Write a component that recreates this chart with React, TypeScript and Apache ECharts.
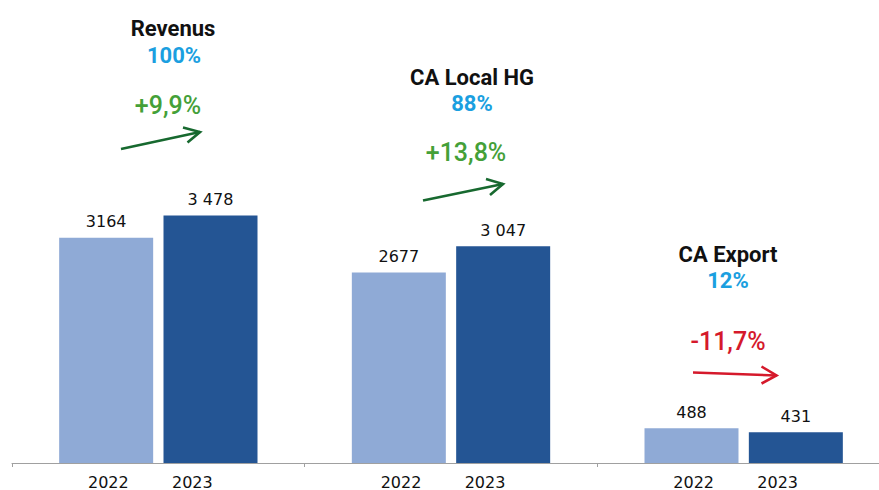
import React, { useEffect, useRef } from "react";
import * as echarts from "echarts";

const categories = ["Revenus", "CA Local HG", "CA Export"];
const years = ["2022", "2023"];
const values2022 = [3164, 2677, 488];
const values2023 = [3478, 3047, 431];
const labels2022 = ["3164", "2677", "488"];
const labels2023 = ["3 478", "3 047", "431"];
const shares = ["100%", "88%", "12%"];
const changes = ["+9,9%", "+13,8%", "-11,7%"];

const LIGHT = "#8faad6";
const DARK = "#245594";
const BLUE = "#1b9fe0";
const GREEN = "#44a038";
const DGREEN = "#17692f";
const RED = "#d5192b";

function txt(text: string, x: number, y: number, fill: string, size: number, weight: string | number) {
  return {
    type: "text",
    x,
    y,
    style: {
      text,
      fill,
      fontSize: size,
      fontWeight: weight,
      fontFamily: "Roboto",
      align: "center",
      verticalAlign: "middle",
      textAlign: "center",
      textVerticalAlign: "middle",
    },
  };
}

function arrow(x1: number, y1: number, x2: number, y2: number, ha: number[], hb: number[], color: string) {
  return [
    {
      type: "polyline",
      shape: { points: [[x1, y1], [x2, y2]] },
      style: { stroke: color, lineWidth: 2.6, fill: "none" },
    },
    {
      type: "polyline",
      shape: { points: [ha, [x2, y2], hb] },
      style: { stroke: color, lineWidth: 2.6, fill: "none", lineJoin: "miter" },
    },
  ];
}

export default function App() {
  const ref = useRef<HTMLDivElement>(null);
  useEffect(() => {
    if (!ref.current) return;
    const chart = echarts.init(ref.current, null, { renderer: "svg" });
    const labelStyle = {
      show: true,
      position: "top",
      distance: 8,
      color: "#111",
      fontSize: 16,
      fontFamily: "DejaVu Sans",
    };
    chart.setOption({
      animation: false,
      grid: { left: 12, width: 878, top: 36, bottom: 27, containLabel: false, outerBoundsMode: "none" },
      xAxis: {
        type: "category",
        data: categories,
        axisLine: { lineStyle: { color: "#a0a0a0", width: 1 } },
        axisTick: { show: true, length: 4, lineStyle: { color: "#a0a0a0" } },
        axisLabel: {
          margin: 11,
          formatter: () => `{y|${years[0]}}{g|}{y|${years[1]}}`,
          padding: [0, 16, 0, 0],
          rich: {
            y: { width: 46, align: "center", fontSize: 16, lineHeight: 16, color: "#111", fontFamily: "DejaVu Sans" },
            g: { width: 38, lineHeight: 16 },
          },
        },
      },
      yAxis: { type: "value", min: 0, max: 6000, show: false, splitLine: { show: false } },
      series: [
        {
          name: years[0],
          type: "bar",
          data: values2022,
          barWidth: 94,
          barGap: "11%",
          itemStyle: { color: LIGHT },
          label: { ...labelStyle, formatter: (p: any) => labels2022[p.dataIndex] },
        },
        {
          name: years[1],
          type: "bar",
          data: values2023,
          barWidth: 94,
          barGap: "11%",
          itemStyle: { color: DARK },
          label: { ...labelStyle, formatter: (p: any) => labels2023[p.dataIndex] },
        },
      ],
      graphic: [
        txt(categories[0], 173, 28, "#111", 22, "bold"),
        txt(shares[0], 174, 55, BLUE, 22, "bold"),
        txt(changes[0], 168, 105, GREEN, 25, 500),
        ...arrow(121, 149, 200, 132, [183, 127.5], [187.5, 142.5], DGREEN),
        txt(categories[1], 472, 77, "#111", 22, "bold"),
        txt(shares[1], 472, 103, BLUE, 22, "bold"),
        txt(changes[1], 466, 152, GREEN, 25, 500),
        ...arrow(423, 200.5, 503, 184, [486, 179], [490, 195], DGREEN),
        txt(categories[2], 728, 254, "#111", 22, "bold"),
        txt(shares[2], 728, 280, BLUE, 22, "bold"),
        txt(changes[2], 728, 341, RED, 25, 500),
        ...arrow(693, 372.5, 776.5, 375.5, [761.5, 366.5], [761.5, 383.5], RED),
      ],
    });
    return () => chart.dispose();
  }, []);
  return <div ref={ref} style={{ width: 879, height: 490, position: "absolute", left: 0, top: 0 }} />;
}
